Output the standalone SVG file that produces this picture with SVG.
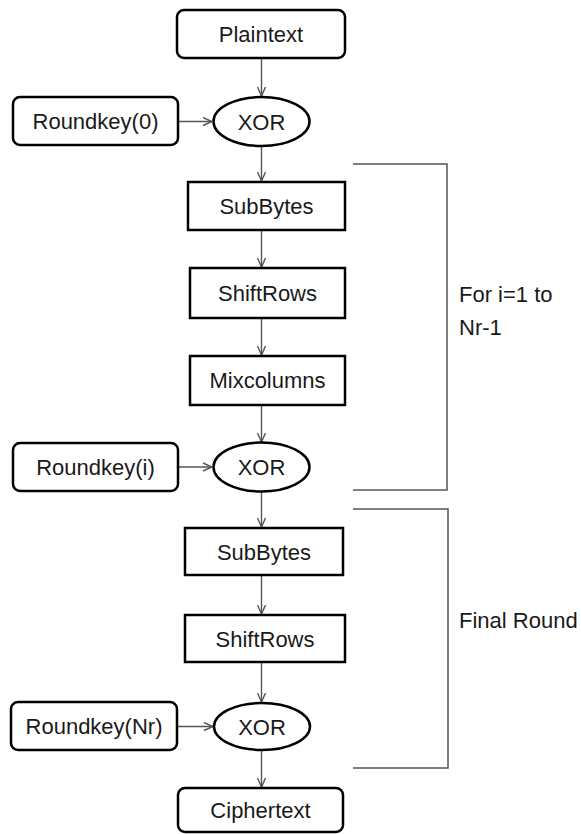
<svg xmlns="http://www.w3.org/2000/svg" width="581" height="834" viewBox="0 0 581 834">
<style>
.box{fill:#fff;stroke:#000;stroke-width:2.5}
.t{font-family:"Liberation Sans",Arial,sans-serif;font-size:22px;fill:#1a1a1a;text-anchor:middle}
.lbl{font-family:"Liberation Sans",Arial,sans-serif;font-size:22px;fill:#1a1a1a}
.c{fill:none;stroke:#555;stroke-width:1.4}
.br{fill:none;stroke:#555;stroke-width:1.5}
</style>
<defs>
<marker id="ah" viewBox="0 0 10 10" refX="10" refY="5" markerWidth="10" markerHeight="10" markerUnits="userSpaceOnUse" orient="auto">
<path d="M1,1 L10,5 L1,9" fill="none" stroke="#555" stroke-width="1.4"/>
</marker>
</defs>
<rect width="581" height="834" fill="#fff"/>
<g id="connectors">
<line class="c" x1="261.5" y1="58" x2="261.5" y2="96" marker-end="url(#ah)"/>
<line class="c" x1="178" y1="121.5" x2="212" y2="121.5" marker-end="url(#ah)"/>
<line class="c" x1="261.5" y1="146" x2="261.5" y2="181" marker-end="url(#ah)"/>
<line class="c" x1="261.5" y1="230" x2="261.5" y2="267" marker-end="url(#ah)"/>
<line class="c" x1="261.5" y1="318" x2="261.5" y2="355" marker-end="url(#ah)"/>
<line class="c" x1="261.5" y1="405" x2="261.5" y2="442" marker-end="url(#ah)"/>
<line class="c" x1="178" y1="467" x2="212" y2="467" marker-end="url(#ah)"/>
<line class="c" x1="261.5" y1="492" x2="261.5" y2="527" marker-end="url(#ah)"/>
<line class="c" x1="261.5" y1="575" x2="261.5" y2="614" marker-end="url(#ah)"/>
<line class="c" x1="261.5" y1="662" x2="261.5" y2="702" marker-end="url(#ah)"/>
<line class="c" x1="177" y1="726.5" x2="213" y2="726.5" marker-end="url(#ah)"/>
<line class="c" x1="261.5" y1="751" x2="261.5" y2="787" marker-end="url(#ah)"/>
</g>
<g id="brackets">
<path class="br" d="M353,164 H447 V490 H353"/>
<path class="br" d="M353,509 H448 V768 H353"/>
</g>
<g id="plaintext"><rect class="box" x="177" y="10" width="168" height="48" rx="7"/><text class="t" x="261" y="42">Plaintext</text></g>
<g id="roundkey0"><rect class="box" x="13" y="97" width="165" height="48" rx="7"/><text class="t" x="95.5" y="129">Roundkey(0)</text></g>
<g id="xor0"><ellipse class="box" cx="261.5" cy="121.5" rx="48" ry="24.5"/><text class="t" x="261.5" y="129.5">XOR</text></g>
<g id="subbytes1"><rect class="box" x="188" y="182" width="157" height="48"/><text class="t" x="266.5" y="214">SubBytes</text></g>
<g id="shiftrows1"><rect class="box" x="190" y="268" width="155" height="50"/><text class="t" x="267.5" y="301">ShiftRows</text></g>
<g id="mixcolumns"><rect class="box" x="190" y="356" width="155" height="49"/><text class="t" x="267.5" y="388">Mixcolumns</text></g>
<g id="roundkeyi"><rect class="box" x="13" y="443" width="165" height="48" rx="7"/><text class="t" x="95.5" y="475">Roundkey(i)</text></g>
<g id="xor1"><ellipse class="box" cx="261.5" cy="467" rx="48" ry="24.5"/><text class="t" x="261.5" y="475">XOR</text></g>
<g id="subbytes2"><rect class="box" x="185" y="528" width="158" height="47"/><text class="t" x="264" y="559.5">SubBytes</text></g>
<g id="shiftrows2"><rect class="box" x="185" y="615" width="160" height="47"/><text class="t" x="265" y="646.5">ShiftRows</text></g>
<g id="roundkeynr"><rect class="box" x="11" y="702" width="166" height="48" rx="7"/><text class="t" x="94" y="734">Roundkey(Nr)</text></g>
<g id="xor2"><ellipse class="box" cx="262" cy="726.5" rx="48" ry="23.5"/><text class="t" x="262" y="734.5">XOR</text></g>
<g id="ciphertext"><rect class="box" x="178" y="788" width="165" height="44" rx="7"/><text class="t" x="260.5" y="818">Ciphertext</text></g>
<g id="labels">
<text class="lbl" x="459" y="302">For i=1 to</text>
<text class="lbl" x="459" y="335">Nr-1</text>
<text class="lbl" x="459" y="628">Final Round</text>
</g>
</svg>
